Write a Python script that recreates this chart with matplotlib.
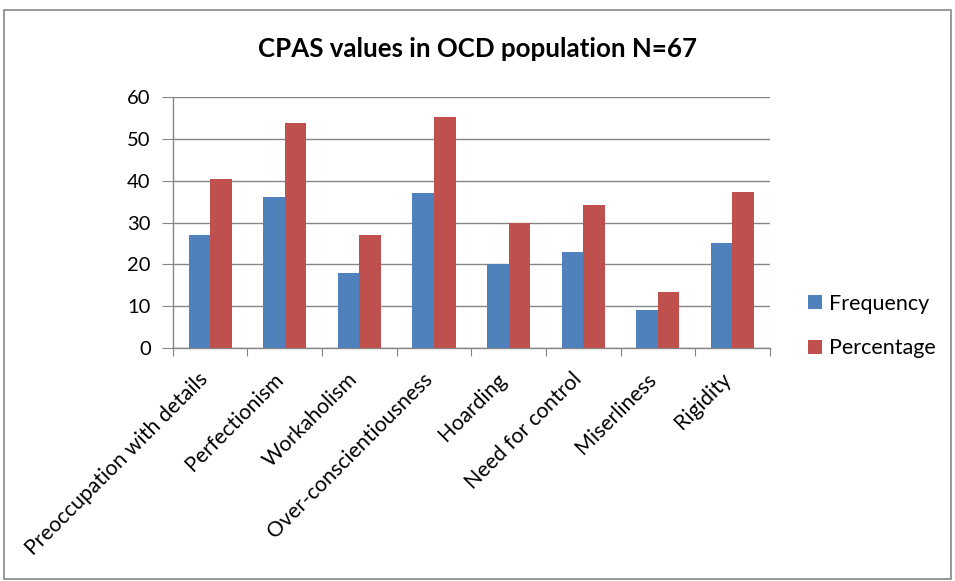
import matplotlib
matplotlib.use("Agg")
import matplotlib.pyplot as plt
from matplotlib.patches import Rectangle
from matplotlib.transforms import ScaledTranslation
import numpy as np

plt.rcParams['font.family'] = ['Lato', 'DejaVu Sans']

categories = ["Preoccupation with details", "Perfectionism", "Workaholism",
              "Over-conscientiousness", "Hoarding", "Need for control",
              "Miserliness", "Rigidity"]
frequency = [27, 36, 18, 37, 20, 23, 9, 25]
percentage = [40.3, 53.7, 26.9, 55.2, 29.9, 34.3, 13.4, 37.3]
series_names = ["Frequency", "Percentage"]
colors = ["#4F81BD", "#C0504D"]
yticks = [0, 10, 20, 30, 40, 50, 60]

fig = plt.figure(figsize=(9.55, 5.81), dpi=100)
ax = fig.add_axes([0.181, 0.401, 0.625, 0.432])

x = np.arange(len(categories))
w = 0.29
b1 = ax.bar(x - w/2, frequency, w, color=colors[0], label=series_names[0], zorder=3)
b2 = ax.bar(x + w/2, percentage, w, color=colors[1], label=series_names[1], zorder=3)

ax.set_xlim(-0.5, len(categories) - 0.5)
ax.set_ylim(0, 60)
ax.set_yticks(yticks)
ax.yaxis.grid(True, color="#868686", linewidth=1, zorder=0)
ax.set_axisbelow(True)
for s in ["top", "right"]:
    ax.spines[s].set_visible(False)
for s in ["left", "bottom"]:
    ax.spines[s].set_color("#868686")
    ax.spines[s].set_linewidth(1)

ax.set_xticks(np.arange(-0.5, len(categories), 1.0))
ax.set_xticklabels([])
ax.set_xticks(x, minor=True)
ax.set_xticklabels(categories, minor=True, rotation=45, ha="right",
                   rotation_mode="anchor", fontsize=15.3)
ax.tick_params(axis="x", which="minor", length=0, pad=8)
ax.tick_params(axis="x", which="major", length=6, color="#868686", direction="out")
ax.tick_params(axis="y", length=8, color="#868686", labelsize=14.5, pad=8)

offset = ScaledTranslation(-0.12, -0.10, fig.dpi_scale_trans)
for lab in ax.get_xticklabels(minor=True):
    lab.set_transform(lab.get_transform() + offset)

fig.text(0.5, 0.915, "CPAS values in OCD population N=67", ha="center",
         va="center", fontsize=18.6, fontweight="bold")

ax.legend(handles=[b1, b2], loc="center left", bbox_to_anchor=(1.0, 0.088),
          frameon=False, fontsize=15.5, handlelength=0.65, handleheight=0.65,
          handletextpad=0.3, labelspacing=1.15, borderaxespad=1.4)

fig.patches.append(Rectangle((0.004, 0.004), 0.992, 0.978, transform=fig.transFigure,
                             fill=False, edgecolor="#868686", linewidth=1.2))

fig.savefig("out.png", dpi=100)
